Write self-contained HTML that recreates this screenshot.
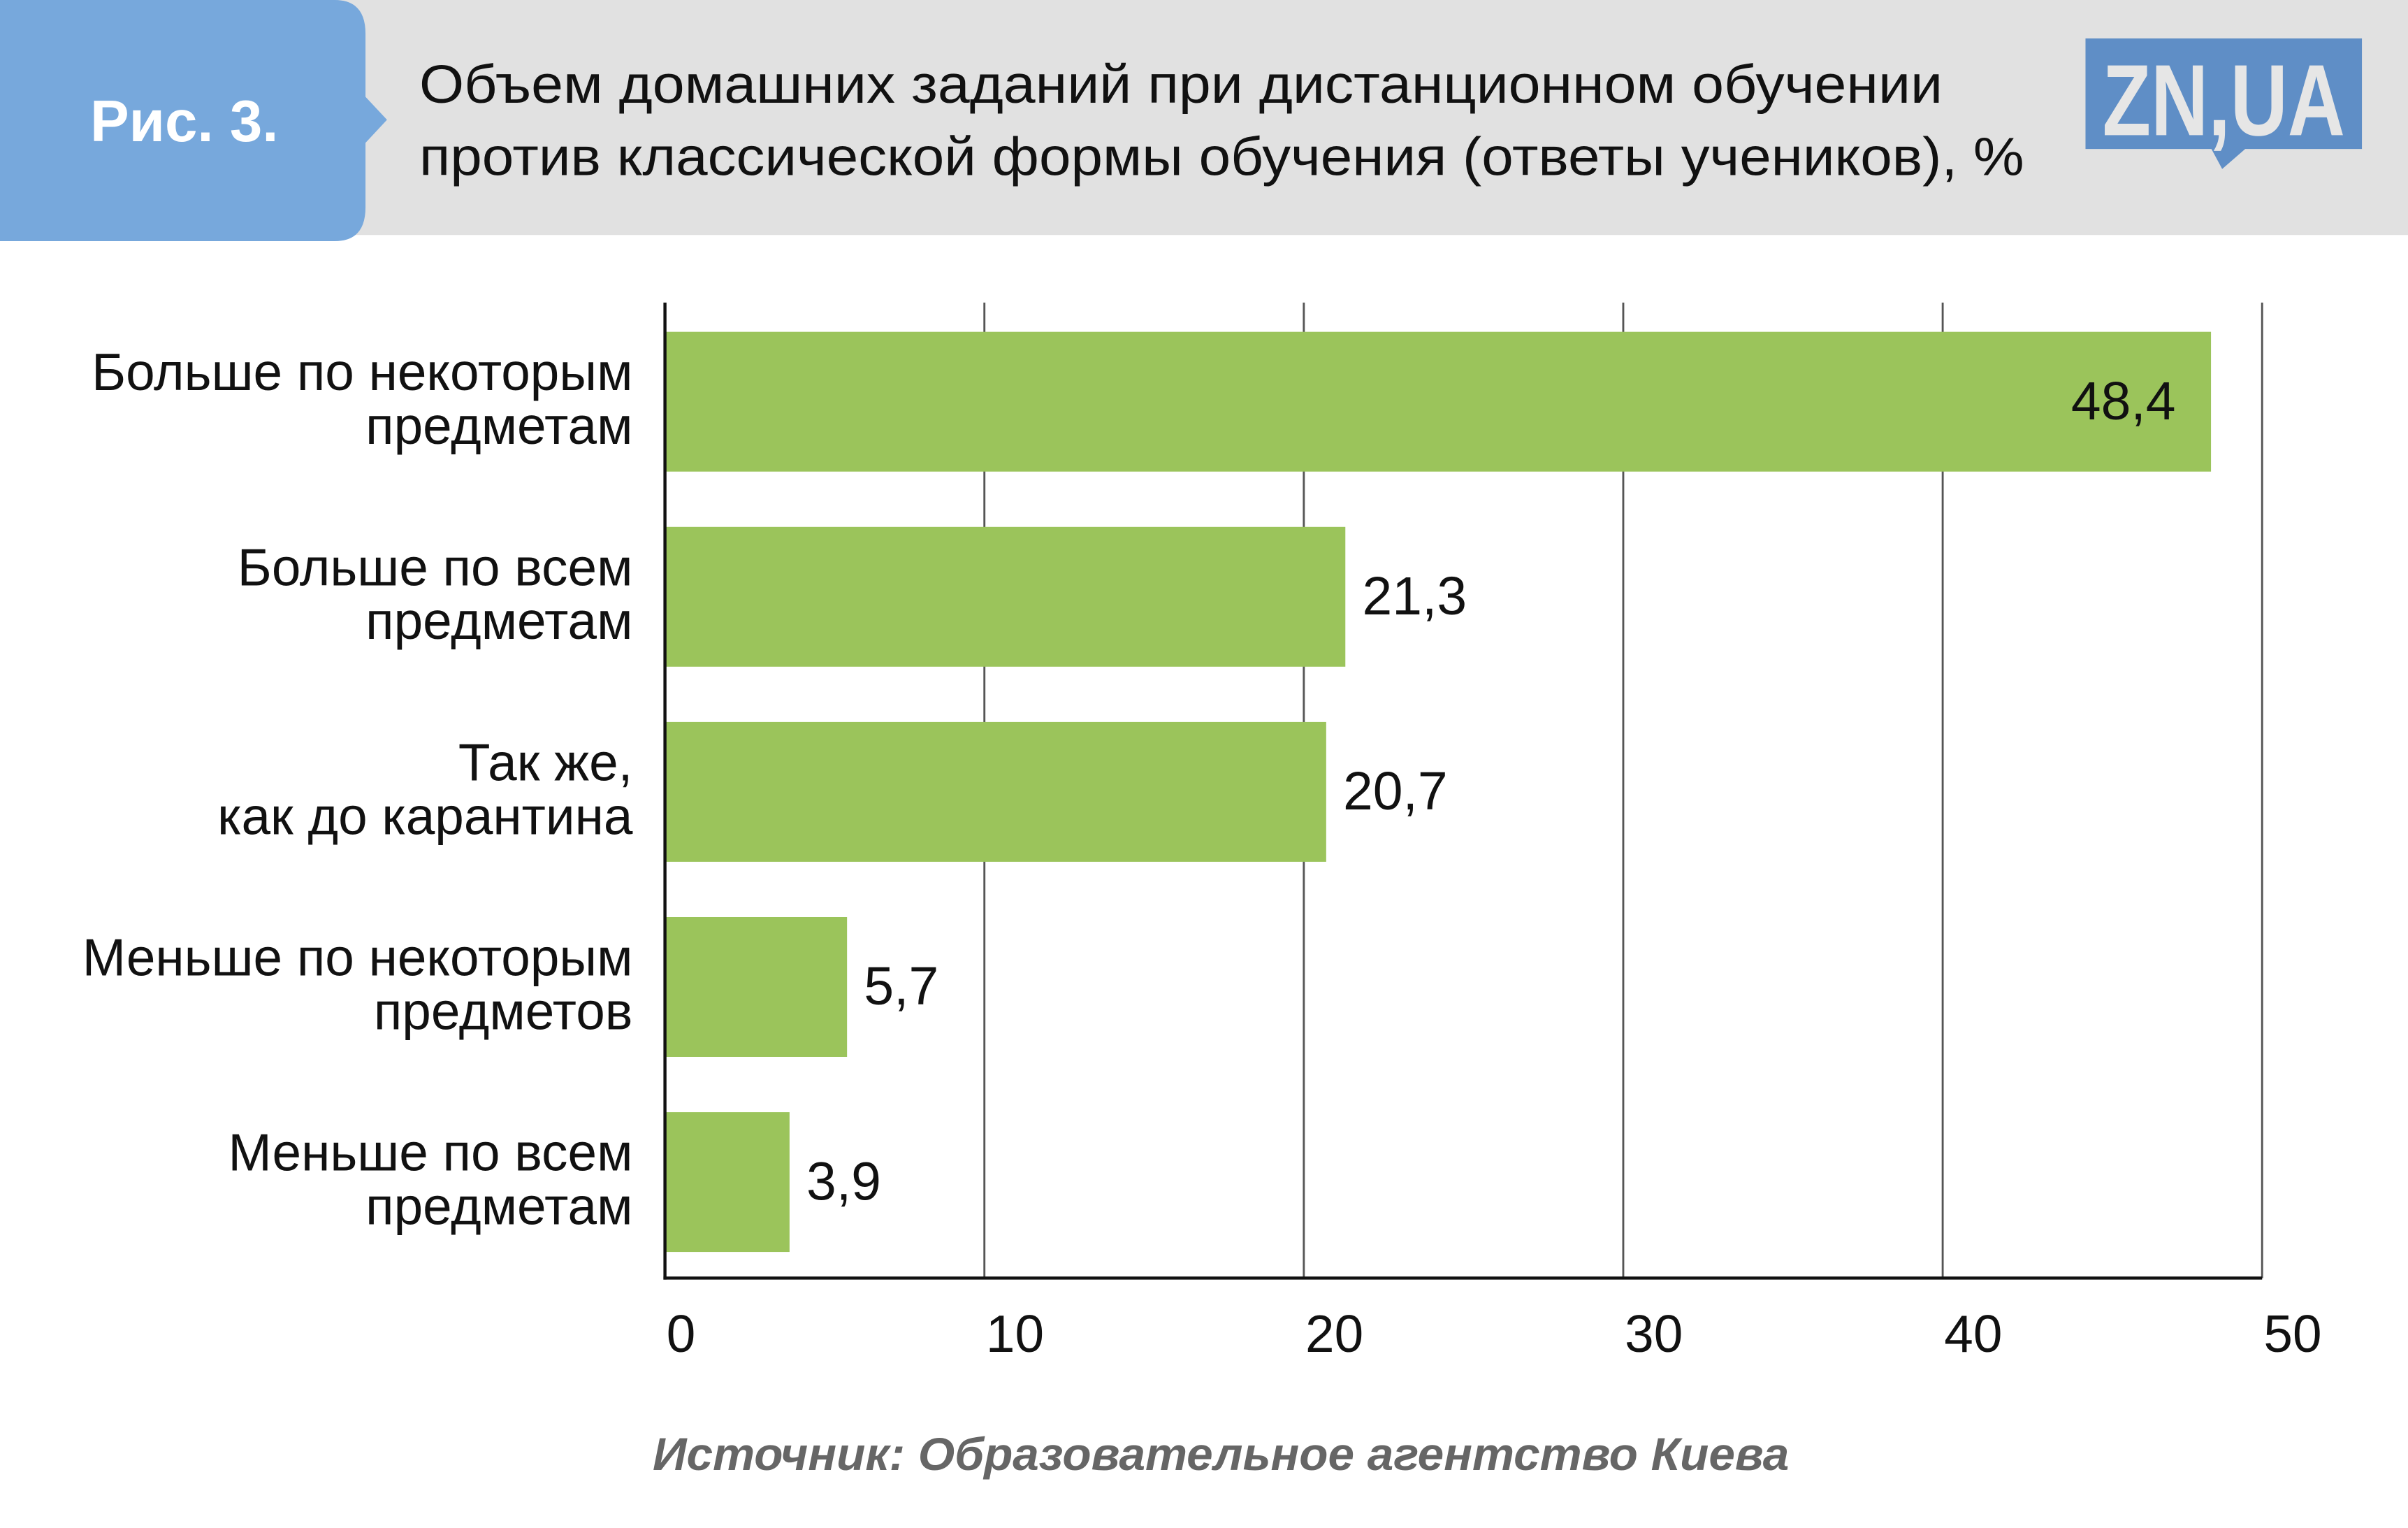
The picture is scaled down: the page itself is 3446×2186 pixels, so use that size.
<!DOCTYPE html>
<html><head><meta charset="utf-8"><style>
html,body{margin:0;padding:0;background:#fff;}
svg{display:block;}
text{font-family:"Liberation Sans",sans-serif;}
</style></head><body>
<svg id="chart" width="3446" height="2186" viewBox="0 0 1568 994.7" preserveAspectRatio="none" xmlns="http://www.w3.org/2000/svg">
  <rect x="0" y="0" width="1568" height="153" fill="#e1e1e1"/>
  <path d="M0 0 H218 Q238 0 238 22 V63 L252 78 L238 93 V135 Q238 157 218 157 H0 Z" fill="#77a8dc"/>
  <text x="120" y="92" text-anchor="middle" font-size="38" font-weight="bold" fill="#fff">Рис. 3.</text>
  <text x="273" y="67" font-size="35" fill="#111" textLength="992" lengthAdjust="spacingAndGlyphs">Объем домашних заданий при дистанционном обучении</text>
  <text x="273" y="114" font-size="35" fill="#111" textLength="1045" lengthAdjust="spacingAndGlyphs">против классической формы обучения (ответы учеников), %</text>
  <g>
    <path d="M1358 25 H1538 V97 H1462 L1447 110 L1440 97 H1358 Z" fill="#5f8ec6"/>
    <text x="1448" y="88" text-anchor="middle" font-size="66" font-weight="bold" fill="#e6e6e6" textLength="158" lengthAdjust="spacingAndGlyphs">ZN,UA</text>
  </g>
  <g id="plot"></g>
  <text x="425" y="957" font-size="30" font-weight="bold" font-style="italic" fill="#666" textLength="740" lengthAdjust="spacingAndGlyphs">Источник: Образовательное агентство Киева</text>
</svg>
<script>
const categories = [["Больше по некоторым","предметам"],["Больше по всем","предметам"],["Так же,","как до карантина"],["Меньше по некоторым","предметов"],["Меньше по всем","предметам"]];
const values = [48.4, 21.3, 20.7, 5.7, 3.9];
const valueLabels = ["48,4","21,3","20,7","5,7","3,9"];
const ticks = [0,10,20,30,40,50];
const tickLabels = ["0","10","20","30","40","50"];

const NS = "http://www.w3.org/2000/svg";
const plot = document.getElementById('plot');
const X0 = 433, X1 = 1473, Y0 = 197, Y1 = 832;
const xScale = v => X0 + (v - 0) / (50 - 0) * (X1 - X0);
const bandTop = 216, pitch = 127, barH = 91;
const yBand = i => bandTop + i * pitch;
function mk(tag, attrs){ const e=document.createElementNS(NS,tag); for(const k in attrs) e.setAttribute(k,attrs[k]); plot.appendChild(e); return e; }

ticks.forEach((t,i)=>{
  if(t>0){
    const g = mk('line',{x1:xScale(t),x2:xScale(t),y1:Y0,y2:Y1,stroke:'#555','stroke-width':1.3});
    
    
  }
  const tl = mk('text',{x:xScale(t)+1,y:880,'text-anchor':'start','font-size':34,fill:'#111'});
  tl.textContent = tickLabels[i];
  
  
});

values.forEach((v,i)=>{
  const y = yBand(i);
  const r = mk('rect',{x:X0,y:y,width:xScale(v)-X0,height:barH,fill:'#9bc45b'});
  
  
  const inside = v > 40;
  const vl = mk('text',{x: inside ? xScale(v)-23 : xScale(v)+11, y:y+57,'text-anchor': inside?'end':'start','font-size':35,fill:'#111'});
  vl.textContent = valueLabels[i];
  
  
  categories[i].forEach((line,j)=>{
    const cl = mk('text',{x:412,y:y+38+j*35,'text-anchor':'end','font-size':34,fill:'#111'});
    cl.textContent = line;
    
    
  });
});

const ya = mk('line',{x1:X0,x2:X0,y1:Y0,y2:Y1+1,stroke:'#111','stroke-width':2});


const xa = mk('line',{x1:X0-1,x2:X1,y1:Y1,y2:Y1,stroke:'#111','stroke-width':2});


</script>
</body></html>
